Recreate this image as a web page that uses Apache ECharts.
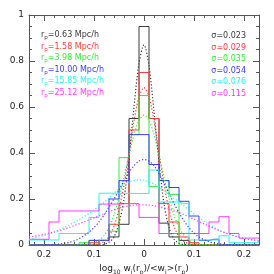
<!DOCTYPE html>
<html><head><meta charset="utf-8">
<script src="https://cdn.jsdelivr.net/npm/echarts@6/dist/echarts.min.js"></script>
<style>html,body{margin:0;padding:0;background:#fff}#c{width:274px;height:274px}</style>
</head><body><div id="c"></div>
<script>
// ---- data ----
const binCenters = [-0.22,-0.20,-0.18,-0.16,-0.14,-0.12,-0.10,-0.08,-0.06,-0.04,-0.02,0,0.02,0.04,0.06,0.08,0.10,0.12,0.14,0.16,0.18,0.20,0.22];
const histBlack   = [0,0,0,0,0,0,0,0.02,0.035,0.09,0.55,0.95,0.55,0.095,0.035,0.02,0,0,0,0,0,0,0];
const histRed     = [0,0,0,0,0,0,0.01,0.02,0.09,0.18,0.5,0.75,0.55,0.18,0.10,0.035,0.01,0,0,0,0,0,0];
const histGreen   = [0,0,0,0,0,0.01,0.02,0.02,0.06,0.38,0.48,0.65,0.255,0.28,0.22,0,0,0,0,0,0,0,0];
const histBlue    = [0,0,0,0,0,0,0.02,0.02,0.2,0.28,0.48,0.48,0.35,0.28,0.25,0.19,0.126,0.02,0.025,0,0,0,0];
const histCyan    = [0.022,0.022,0.022,0.05,0.05,0.05,0.12,0.225,0.225,0.225,0.224,0.224,0.326,0.187,0.187,0.18,0.022,0.022,0.022,0.04,0.01,0.01,0.01];
const histMagenta = [0.025,0.025,0.10,0.148,0.148,0.148,0.148,0.178,0.178,0.18,0.18,0.12,0.12,0.05,0.05,0.05,0.05,0.05,0.10,0.123,0.05,0.03,0.03];

const curveX = [-0.23,-0.22,-0.21,-0.20,-0.19,-0.18,-0.17,-0.16,-0.15,-0.14,-0.13,-0.12,-0.11,-0.10,-0.09,-0.08,-0.07,-0.06,-0.05,-0.04,-0.03,-0.02,-0.01,0,0.01,0.02,0.03,0.04,0.05,0.06,0.07,0.08,0.09,0.10,0.11,0.12,0.13,0.14,0.15,0.16,0.17,0.18,0.19,0.20,0.21,0.22,0.23];
const curveBlack   = [0,0,0,0,0,0,0,0,0,0,0,0,0,0,0,0.003,0.012,0.035,0.095,0.2,0.38,0.6,0.79,0.87,0.78,0.58,0.36,0.18,0.075,0.026,0.008,0.002,0,0,0,0,0,0,0,0,0,0,0,0,0,0,0];
const curveRed     = [0,0,0,0,0,0,0,0,0,0,0,0,0.001,0.002,0.006,0.015,0.037,0.081,0.155,0.264,0.401,0.539,0.644,0.684,0.644,0.539,0.401,0.264,0.155,0.081,0.037,0.015,0.006,0.002,0.001,0,0,0,0,0,0,0,0,0,0,0,0];
const curveGreen   = [0,0,0,0,0,0,0,0,0,0,0.001,0.002,0.004,0.01,0.021,0.041,0.077,0.13,0.204,0.294,0.391,0.48,0.542,0.565,0.542,0.48,0.391,0.294,0.204,0.13,0.077,0.041,0.021,0.01,0.004,0.002,0.001,0,0,0,0,0,0,0,0,0,0];
const curveBlue    = [0,0,0,0.0005,0.001,0.002,0.004,0.007,0.011,0.018,0.027,0.04,0.056,0.076,0.1,0.13,0.165,0.2,0.24,0.28,0.315,0.345,0.365,0.372,0.365,0.345,0.31,0.27,0.225,0.18,0.14,0.105,0.075,0.052,0.035,0.023,0.014,0.008,0.005,0.003,0.001,0.0005,0,0,0,0,0];
const curveCyan    = [0.025,0.03,0.035,0.041,0.048,0.056,0.065,0.075,0.086,0.098,0.11,0.123,0.137,0.152,0.168,0.185,0.205,0.225,0.245,0.262,0.274,0.281,0.283,0.281,0.275,0.265,0.252,0.237,0.22,0.203,0.187,0.17,0.153,0.136,0.12,0.104,0.09,0.077,0.065,0.055,0.046,0.04,0.034,0.029,0.025,0.022,0.019];
const curveMagenta = [0.035,0.038,0.042,0.046,0.051,0.056,0.062,0.069,0.076,0.084,0.092,0.10,0.109,0.118,0.127,0.136,0.145,0.153,0.16,0.166,0.17,0.173,0.175,0.175,0.174,0.171,0.167,0.162,0.156,0.149,0.141,0.132,0.122,0.112,0.102,0.092,0.082,0.072,0.063,0.055,0.047,0.04,0.034,0.029,0.024,0.02,0.017];

const rpLabels = ['0.63','1.58','3.98','10.00','15.85','25.12'];
const sigmaLabels = ['0.023','0.029','0.035','0.054','0.076','0.115'];
const xMajorTicks = [-0.2,-0.1,0,0.1,0.2];
const xMinorTicks = [-0.22,-0.20,-0.18,-0.16,-0.14,-0.12,-0.10,-0.08,-0.06,-0.04,-0.02,0,0.02,0.04,0.06,0.08,0.10,0.12,0.14,0.16,0.18,0.20,0.22];
const xRange = [-0.23, 0.23];
const yRange = [0, 1];

// ---- style ----
const colors = ['#3a3a3a','#ff3b3b','#3be83b','#3b3bff','#2ef2f2','#ff3bff'];
const hists = [histBlack,histRed,histGreen,histBlue,histCyan,histMagenta];
const curves = [curveBlack,curveRed,curveGreen,curveBlue,curveCyan,curveMagenta];
const axisColor = '#555';
const FONT = 'DejaVu Sans';

function histData(vals){
  const d = [[xRange[0], vals[0]]];
  binCenters.forEach((c,i)=>d.push([c, vals[i]]));
  d.push([xRange[1], vals[vals.length-1]]);
  return d;
}
const series = [];
hists.forEach((h,k)=>{
  series.push({type:'line', step:'middle', data:histData(h), symbol:'none', silent:true,
    lineStyle:{color:colors[k], width:1}, xAxisIndex:0, yAxisIndex:0, z:2});
});
curves.forEach((cv,k)=>{
  series.push({type:'line', data:curveX.map((x,i)=>[x,cv[i]]), symbol:'none', smooth:0.3, silent:true,
    lineStyle:{color:colors[k], width:1.2, type:[1.2,2]}, xAxisIndex:0, yAxisIndex:0, z:3});
});

const grid = {left:29, top:15, width:230, height:230, outerBoundsMode:'none', containLabel:false};
const rich = {
  n:{fontFamily:FONT, fontSize:9, color:'#222'},
  s:{fontFamily:FONT, fontSize:6, color:'#222', padding:[6,0,0,0]}
};
const graphics = [];
rpLabels.forEach((t,k)=>{
  graphics.push({type:'text', left:41, top:31+k*11.6, silent:true,
    style:{text:'{n|r}{s|p}{n|=' + t + ' Mpc/h}', rich:{
      n:{fontFamily:FONT, fontSize:8, fill:colors[k]},
      s:{fontFamily:FONT, fontSize:5.5, fill:colors[k], padding:[5,0,0,0]}}}});
  graphics.push({type:'text', right:28, top:32+k*11.6, silent:true,
    style:{text:'σ=' + sigmaLabels[k], fontFamily:FONT, fontSize:8, fill:colors[k]}});
});

const chart = echarts.init(document.getElementById('c'), null, {renderer:'canvas'});
chart.setOption({
  animation:false,
  backgroundColor:'#fff',
  grid:[Object.assign({}, grid), Object.assign({}, grid)],
  xAxis:[
    {type:'value', gridIndex:0, position:'bottom', min:xRange[0], max:xRange[1],
     axisLine:{show:true, onZero:false, lineStyle:{color:axisColor, width:1}},
     axisTick:{show:true, inside:true, length:6, customValues:xMajorTicks, lineStyle:{color:axisColor}},
     axisLabel:{show:true, customValues:xMajorTicks, margin:5, fontFamily:FONT, fontSize:9, color:'#222',
       formatter:v=>String(Math.abs(Math.round(v*10)/10))},
     splitLine:{show:false},
     name:'{n|log}{s|10}{n| w}{s|i}{n|(r}{s|p}{n|)/<w}{s|i}{n|>(r}{s|p}{n|)}',
     nameLocation:'middle', nameGap:18, nameTextStyle:{rich:rich}},
    {type:'value', gridIndex:0, position:'top', min:xRange[0], max:xRange[1],
     axisLine:{show:true, onZero:false, lineStyle:{color:axisColor, width:1}},
     axisTick:{show:true, inside:true, length:6, customValues:xMajorTicks, lineStyle:{color:axisColor}},
     axisLabel:{show:false}, splitLine:{show:false}},
    {type:'value', gridIndex:1, position:'bottom', min:xRange[0], max:xRange[1],
     axisLine:{show:false},
     axisTick:{show:true, inside:true, length:3, customValues:xMinorTicks, lineStyle:{color:axisColor}},
     axisLabel:{show:false}, splitLine:{show:false}},
    {type:'value', gridIndex:1, position:'top', min:xRange[0], max:xRange[1],
     axisLine:{show:false},
     axisTick:{show:true, inside:true, length:3, customValues:xMinorTicks, lineStyle:{color:axisColor}},
     axisLabel:{show:false}, splitLine:{show:false}}
  ],
  yAxis:[
    {type:'value', gridIndex:0, position:'left', min:yRange[0], max:yRange[1], interval:0.2,
     axisLine:{show:true, onZero:false, lineStyle:{color:axisColor, width:1}},
     axisTick:{show:true, inside:true, length:6, lineStyle:{color:axisColor}},
     minorTick:{show:true, splitNumber:4, length:3, lineStyle:{color:axisColor}},
     axisLabel:{show:true, margin:5, fontFamily:FONT, fontSize:9, color:'#222'},
     splitLine:{show:false}, minorSplitLine:{show:false},
     name:'dN / dx', nameLocation:'middle', nameGap:21, nameRotate:90,
     nameTextStyle:{fontFamily:FONT, fontSize:9, color:'#222'}},
    {type:'value', gridIndex:0, position:'right', min:yRange[0], max:yRange[1], interval:0.2,
     axisLine:{show:true, onZero:false, lineStyle:{color:axisColor, width:1}},
     axisTick:{show:true, inside:true, length:6, lineStyle:{color:axisColor}},
     minorTick:{show:true, splitNumber:4, length:3, lineStyle:{color:axisColor}},
     axisLabel:{show:false}, splitLine:{show:false}},
    {type:'value', gridIndex:1, min:yRange[0], max:yRange[1], show:false}
  ],
  series:series,
  graphic:graphics
});
</script></body></html>
